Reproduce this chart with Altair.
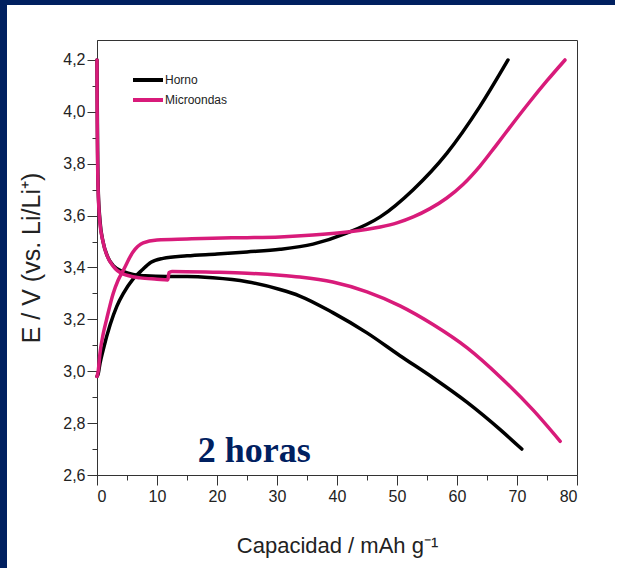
import altair as alt
import pandas as pd

# ---------------- data ----------------
series = ["Horno", "Microondas"]
colors = ["#000000", "#d81b7a"]

horno_carga_cap = [0, 0.2, 0.5, 1.0, 2.2, 3.3, 4.4, 6, 7.5, 9, 11, 15, 20, 25, 30.5, 36, 41.7, 47.2, 52.7, 58.3, 63.8, 68.5]
horno_carga_v = [2.98, 2.99, 3.03, 3.08, 3.18, 3.25, 3.30, 3.355, 3.39, 3.42, 3.435, 3.445, 3.452, 3.46, 3.47, 3.49, 3.533, 3.595, 3.70, 3.84, 4.02, 4.2]

horno_desc_cap = [0, 0.05, 0.1, 0.2, 0.5, 1.0, 1.8, 2.8, 4.3, 6, 8, 11.6, 15, 19.3, 25, 30.5, 33.8, 39.3, 45, 50.5, 56, 61.7, 67.2, 70.8]
horno_desc_v = [4.2, 4.0, 3.85, 3.7, 3.58, 3.5, 3.44, 3.405, 3.385, 3.373, 3.368, 3.365, 3.365, 3.36, 3.345, 3.315, 3.29, 3.226, 3.148, 3.06, 2.975, 2.88, 2.775, 2.70]

micro_carga_cap = [0, 0.2, 0.5, 1.0, 1.6, 2.7, 3.5, 4.4, 6, 7.7, 10, 15, 19.3, 25, 30.5, 36, 41.7, 47.2, 50, 52.7, 55.5, 58.3, 61, 63.8, 66.5, 69.3, 72, 75, 78]
micro_carga_v = [2.98, 3.0, 3.07, 3.14, 3.2, 3.3, 3.35, 3.39, 3.46, 3.495, 3.506, 3.51, 3.513, 3.515, 3.518, 3.525, 3.537, 3.556, 3.572, 3.595, 3.627, 3.668, 3.72, 3.79, 3.87, 3.955, 4.035, 4.12, 4.2]

micro_desc_cap = [0, 0.03, 0.08, 0.2, 0.5, 0.9, 1.6, 2.7, 4.3, 7.2, 10, 11.8, 12.0, 12.5, 19.3, 25, 30.5, 33.8, 39.3, 45, 50.5, 56, 61.7, 67.2, 72.7, 77.2]
micro_desc_v = [4.2, 4.0, 3.85, 3.69, 3.57, 3.51, 3.45, 3.405, 3.375, 3.36, 3.355, 3.352, 3.38, 3.385, 3.382, 3.378, 3.37, 3.363, 3.344, 3.306, 3.252, 3.18, 3.09, 2.978, 2.85, 2.73]

x_ticks = [0, 10, 20, 30, 40, 50, 60, 70, 80]
x_minor = [5, 15, 25, 35, 45, 55, 65, 75]
y_ticks = [2.6, 2.8, 3.0, 3.2, 3.4, 3.6, 3.8, 4.0, 4.2]
y_minor = [2.7, 2.9, 3.1, 3.3, 3.5, 3.7, 3.9, 4.1]

annot_text = ["2 horas"]
annot_x = [26.2]
annot_y = [2.65]

# ---------------- table ----------------
rows = []
for serie, rama, caps, vs in [
    ("Horno", "carga", horno_carga_cap, horno_carga_v),
    ("Horno", "descarga", horno_desc_cap, horno_desc_v),
    ("Microondas", "carga", micro_carga_cap, micro_carga_v),
    ("Microondas", "descarga", micro_desc_cap, micro_desc_v),
]:
    for i, (c, v) in enumerate(zip(caps, vs)):
        rows.append({"serie": serie, "rama": serie + "-" + rama, "i": i, "cap": c, "volt": v})
df = pd.DataFrame(rows)

annot = pd.DataFrame({"t": annot_text, "cap": annot_x, "volt": annot_y})

FONT = "Liberation Sans"
NAVY = "#002060"
xs = alt.Scale(domain=[0, 80], nice=False, zero=False)
ys = alt.Scale(domain=[2.6, 4.277], nice=False, zero=False)

lines = alt.Chart(df).mark_line(strokeWidth=3.5, strokeCap="round", strokeJoin="round", interpolate="monotone").encode(
    x=alt.X("cap:Q", scale=xs, axis=alt.Axis(
        values=x_ticks, orient="bottom", tickSize=10, labelPadding=3, labelFontSize=16,
        labelFont=FONT, labelColor="#222222", tickColor="#333333", domainColor="#333333",
        grid=False, title="Capacidad / mAh g⁻¹", titleFont=FONT, titleFontSize=22,
        titleFontWeight="normal", titleColor="#222222", titlePadding=31, format="d")),
    y=alt.Y("volt:Q", scale=ys, axis=alt.Axis(
        values=y_ticks, orient="left", tickSize=10, labelPadding=2, labelFontSize=16,
        labelFont=FONT, labelColor="#222222", tickColor="#333333", domainColor="#333333",
        grid=False, labelExpr="replace(format(datum.value, '.1f'), '.', ',')",
        title="E / V (vs. Li/Li⁺)", titleFont=FONT, titleFontSize=25,
        titleFontWeight="normal", titleColor="#222222", titlePadding=18)),
    color=alt.Color("serie:N", scale=alt.Scale(domain=series, range=colors), legend=alt.Legend(
        title=None, orient="none", legendX=39, legendY=28, symbolType="M-1.5,0H1.5",
        symbolSize=400, symbolStrokeWidth=4, labelFont=FONT, labelFontSize=12,
        labelColor="#222222", labelOffset=5, padding=0, rowPadding=-2)),
    detail="rama:N",
    order="i:Q",
)

label = alt.Chart(annot).mark_text(
    font="Liberation Serif", fontWeight="bold", fontSize=36, color=NAVY,
    baseline="alphabetic", align="center").encode(
    x=alt.X("cap:Q", scale=xs, axis=alt.Axis(
        values=x_minor, orient="bottom", tickSize=5, labels=False, domain=False,
        grid=False, title=None, tickColor="#333333")),
    y=alt.Y("volt:Q", scale=ys, axis=alt.Axis(
        values=y_minor, orient="left", tickSize=5, labels=False, domain=False,
        grid=False, title=None, tickColor="#333333")),
    text="t:N",
)

frame_data = pd.DataFrame({"k": ["left", "top"]})
left_bar = alt.Chart(frame_data).transform_filter("datum.k == 'left'").mark_rect(color=NAVY).encode(
    x=alt.value(-97), x2=alt.value(-90), y=alt.value(-40), y2=alt.value(534))
top_bar = alt.Chart(frame_data).transform_filter("datum.k == 'top'").mark_rect(color=NAVY).encode(
    x=alt.value(-97), x2=alt.value(525), y=alt.value(-40), y2=alt.value(-35))

chart = alt.layer(lines, label, left_bar, top_bar).resolve_axis(
    x="independent", y="independent"
).properties(
    width=480, height=435,
    autosize=alt.AutoSizeParams(type="none"),
    padding={"left": 97, "top": 40, "right": 38, "bottom": 93},
    background="white",
).configure_view(stroke="#333333", strokeWidth=1)

chart.save("out.html", embed_options={"renderer": "svg", "actions": False})
